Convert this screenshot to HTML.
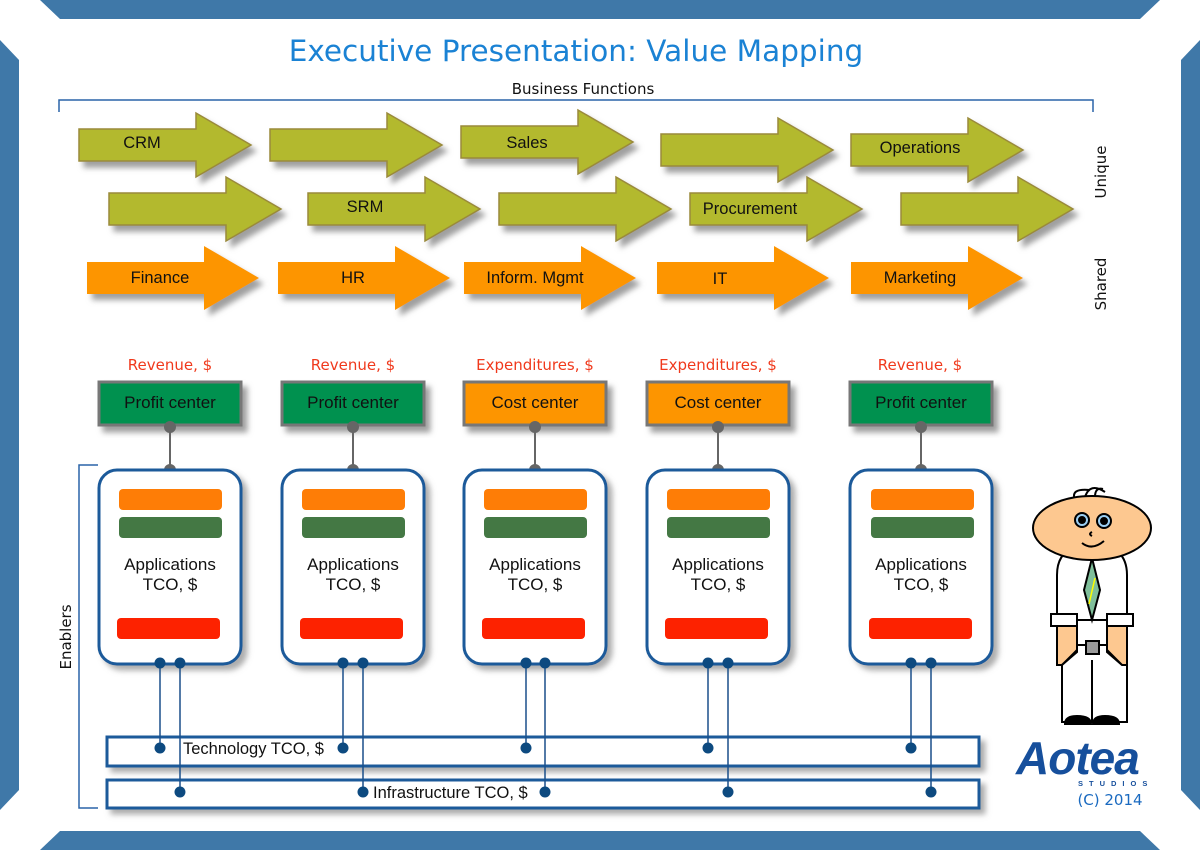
<!DOCTYPE html>
<html><head><meta charset="utf-8"><style>
html,body{margin:0;padding:0;background:#fff;width:1200px;height:850px;overflow:hidden}
svg{display:block}
text{font-family:"Liberation Sans",sans-serif}
.dv,.dv text{font-family:"DejaVu Sans","Liberation Sans",sans-serif}
</style></head><body>
<svg width="1200" height="850" viewBox="0 0 1200 850" xmlns="http://www.w3.org/2000/svg">
<defs>
<filter id="sh" x="-10%" y="-20%" width="130%" height="150%"><feDropShadow dx="5" dy="6" stdDeviation="3" flood-color="#777" flood-opacity="0.7"/></filter>
<filter id="sh2" x="-10%" y="-10%" width="130%" height="130%"><feDropShadow dx="5" dy="5" stdDeviation="3" flood-color="#777" flood-opacity="0.6"/></filter>
<path id="arr" d="M0,-16 H117 V-32 L172,0 L117,32 V16 H0 Z"/>
</defs>
<!-- frame -->
<polygon points="40,0 1160,0 1140,19 60,19" fill="#3f78a8"/>
<polygon points="40,850 1160,850 1140,831 60,831" fill="#3f78a8"/>
<polygon points="0,40 19,60 19,790 0,810" fill="#3f78a8"/>
<polygon points="1200,40 1181,60 1181,790 1200,810" fill="#3f78a8"/>

<text x="576" y="61" text-anchor="middle" class="dv" font-size="29.5" fill="#1a82d4">Executive Presentation: Value Mapping</text>
<text x="583" y="94" text-anchor="middle" class="dv" font-size="15" fill="#111">Business Functions</text>
<path d="M59,112 V100 H1093 V112" fill="none" stroke="#2a64a8" stroke-width="1.5"/>

<!-- green arrows -->
<g fill="#b3b92f" stroke="#9a8a3a" stroke-width="1.5" filter="url(#sh)">
<use href="#arr" x="79" y="145"/><use href="#arr" x="270" y="145"/><use href="#arr" x="461" y="142"/><use href="#arr" x="661" y="150"/><use href="#arr" x="851" y="150"/>
<use href="#arr" x="109" y="209"/><use href="#arr" x="308" y="209"/><use href="#arr" x="499" y="209"/><use href="#arr" x="690" y="209"/><use href="#arr" x="901" y="209"/>
</g>
<g fill="#fd9500" filter="url(#sh)">
<use href="#arr" x="87" y="278"/><use href="#arr" x="278" y="278"/><use href="#arr" x="464" y="278"/><use href="#arr" x="657" y="278"/><use href="#arr" x="851" y="278"/>
</g>
<g font-size="16.5" fill="#111" text-anchor="middle">
<text x="142" y="148">CRM</text><text x="527" y="148">Sales</text><text x="920" y="153">Operations</text>
<text x="365" y="212">SRM</text><text x="750" y="214">Procurement</text>
<text x="160" y="283">Finance</text><text x="353" y="283">HR</text><text x="535" y="283">Inform. Mgmt</text><text x="720" y="284">IT</text><text x="920" y="283">Marketing</text>
</g>
<text transform="translate(1106,172) rotate(-90)" text-anchor="middle" class="dv" font-size="15" fill="#111">Unique</text>
<text transform="translate(1106,284) rotate(-90)" text-anchor="middle" class="dv" font-size="15" fill="#111">Shared</text>

<!-- revenue labels -->
<g class="dv" font-size="15" fill="#f0391c" text-anchor="middle">
<text x="170" y="370">Revenue, $</text><text x="353" y="370">Revenue, $</text><text x="535" y="370">Expenditures, $</text><text x="718" y="370">Expenditures, $</text><text x="920" y="370">Revenue, $</text>
</g>
<!-- center boxes -->
<g stroke="#777" stroke-width="3" filter="url(#sh)">
<rect x="99" y="382" width="142" height="43" fill="#009150"/>
<rect x="282" y="382" width="142" height="43" fill="#009150"/>
<rect x="464" y="382" width="142" height="43" fill="#fd9500"/>
<rect x="647" y="382" width="142" height="43" fill="#fd9500"/>
<rect x="850" y="382" width="142" height="43" fill="#009150"/>
</g>
<g font-size="17" fill="#111" text-anchor="middle">
<text x="170" y="408">Profit center</text><text x="353" y="408">Profit center</text><text x="535" y="408">Cost center</text><text x="718" y="408">Cost center</text><text x="921" y="408">Profit center</text>
</g>
<g stroke="#666" stroke-width="2" fill="#666">
<line x1="170" y1="427" x2="170" y2="470"/><circle cx="170" cy="427" r="5"/><circle cx="170" cy="470" r="5"/>
<line x1="353" y1="427" x2="353" y2="470"/><circle cx="353" cy="427" r="5"/><circle cx="353" cy="470" r="5"/>
<line x1="535" y1="427" x2="535" y2="470"/><circle cx="535" cy="427" r="5"/><circle cx="535" cy="470" r="5"/>
<line x1="718" y1="427" x2="718" y2="470"/><circle cx="718" cy="427" r="5"/><circle cx="718" cy="470" r="5"/>
<line x1="921" y1="427" x2="921" y2="470"/><circle cx="921" cy="427" r="5"/><circle cx="921" cy="470" r="5"/>
</g>

<!-- enablers bracket -->
<path d="M98,465 H79 V808 H98" fill="none" stroke="#2a64a8" stroke-width="1.5"/>
<text transform="translate(71,637) rotate(-90)" text-anchor="middle" class="dv" font-size="15" fill="#111">Enablers</text>

<!-- tech & infra bars -->
<g fill="#fff" stroke="#1a5a9a" stroke-width="3" filter="url(#sh2)">
<rect x="107" y="737" width="872" height="29"/>
<rect x="107" y="780" width="872" height="28"/>
</g>
<text x="183" y="754" font-size="16.5" fill="#111">Technology TCO, $</text>
<text x="373" y="798" font-size="16.5" fill="#111">Infrastructure TCO, $</text>

<!-- app boxes -->
<g fill="#fff" stroke="#1a5a9a" stroke-width="3" filter="url(#sh2)">
<rect x="99" y="470" width="142" height="194" rx="18"/>
<rect x="282" y="470" width="142" height="194" rx="18"/>
<rect x="464" y="470" width="142" height="194" rx="18"/>
<rect x="647" y="470" width="142" height="194" rx="18"/>
<rect x="850" y="470" width="142" height="194" rx="18"/>
</g>
<g>
<rect x="119" y="489" width="103" height="21" rx="4" fill="#fe7d06"/><rect x="119" y="517" width="103" height="21" rx="4" fill="#447844"/><rect x="117" y="618" width="103" height="21" rx="4" fill="#fd2200"/>
<rect x="302" y="489" width="103" height="21" rx="4" fill="#fe7d06"/><rect x="302" y="517" width="103" height="21" rx="4" fill="#447844"/><rect x="300" y="618" width="103" height="21" rx="4" fill="#fd2200"/>
<rect x="484" y="489" width="103" height="21" rx="4" fill="#fe7d06"/><rect x="484" y="517" width="103" height="21" rx="4" fill="#447844"/><rect x="482" y="618" width="103" height="21" rx="4" fill="#fd2200"/>
<rect x="667" y="489" width="103" height="21" rx="4" fill="#fe7d06"/><rect x="667" y="517" width="103" height="21" rx="4" fill="#447844"/><rect x="665" y="618" width="103" height="21" rx="4" fill="#fd2200"/>
<rect x="871" y="489" width="103" height="21" rx="4" fill="#fe7d06"/><rect x="871" y="517" width="103" height="21" rx="4" fill="#447844"/><rect x="869" y="618" width="103" height="21" rx="4" fill="#fd2200"/>
</g>
<g font-size="17" fill="#111" text-anchor="middle">
<text x="170" y="570">Applications</text><text x="170" y="590">TCO, $</text>
<text x="353" y="570">Applications</text><text x="353" y="590">TCO, $</text>
<text x="535" y="570">Applications</text><text x="535" y="590">TCO, $</text>
<text x="718" y="570">Applications</text><text x="718" y="590">TCO, $</text>
<text x="921" y="570">Applications</text><text x="921" y="590">TCO, $</text>
</g>
<!-- connectors -->
<g stroke="#1a4f8a" stroke-width="1.5" fill="#0d4a80">
<line x1="160" y1="663" x2="160" y2="748"/><line x1="180" y1="663" x2="180" y2="792"/>
<line x1="343" y1="663" x2="343" y2="748"/><line x1="363" y1="663" x2="363" y2="792"/>
<line x1="526" y1="663" x2="526" y2="748"/><line x1="545" y1="663" x2="545" y2="792"/>
<line x1="708" y1="663" x2="708" y2="748"/><line x1="728" y1="663" x2="728" y2="792"/>
<line x1="911" y1="663" x2="911" y2="748"/><line x1="931" y1="663" x2="931" y2="792"/>
<g stroke="none">
<circle cx="160" cy="663" r="5.5"/><circle cx="180" cy="663" r="5.5"/><circle cx="343" cy="663" r="5.5"/><circle cx="363" cy="663" r="5.5"/>
<circle cx="526" cy="663" r="5.5"/><circle cx="545" cy="663" r="5.5"/><circle cx="708" cy="663" r="5.5"/><circle cx="728" cy="663" r="5.5"/>
<circle cx="911" cy="663" r="5.5"/><circle cx="931" cy="663" r="5.5"/>
<circle cx="160" cy="748" r="5.5"/><circle cx="343" cy="748" r="5.5"/><circle cx="526" cy="748" r="5.5"/><circle cx="708" cy="748" r="5.5"/><circle cx="911" cy="748" r="5.5"/>
<circle cx="180" cy="792" r="5.5"/><circle cx="363" cy="792" r="5.5"/><circle cx="545" cy="792" r="5.5"/><circle cx="728" cy="792" r="5.5"/><circle cx="931" cy="792" r="5.5"/>
</g>
</g>

<!-- character -->
<g stroke="#000" stroke-width="2">
<path d="M1075,500 q-5,-12 15,-10 M1085,497 q5,-15 20,-5 M1095,497 q0,-10 8,-8" fill="none"/>
<path d="M1057,620 V575 q0,-30 35,-32 q35,2 35,32 V620 Z" fill="#fff"/>
<path d="M1057,626 H1077 V650 L1062,665 H1057 Z" fill="#fdc890"/>
<path d="M1127,626 H1107 V650 L1122,665 H1127 Z" fill="#fdc890"/>
<rect x="1051" y="614" width="26" height="12" fill="#fff"/>
<rect x="1107" y="614" width="26" height="12" fill="#fff"/>
<path d="M1077,645 H1107 V652 L1122,665 H1127 V722 H1062 V665 L1077,652 Z" fill="#fff"/>
<line x1="1092" y1="660" x2="1092" y2="722"/>
<path d="M1065,724 q0,-8 12,-8 q14,0 14,8 Z M1093,724 q0,-8 12,-8 q14,0 14,8 Z" fill="#000"/>
<rect x="1086" y="641" width="13" height="13" fill="#999"/>
<path d="M1092,558 L1100,590 L1092,620 L1084,590 Z" fill="#7fbf9a"/>
<line x1="1095" y1="578" x2="1089" y2="604" stroke="#ff0" stroke-width="1.5"/>
<ellipse cx="1092" cy="528" rx="59" ry="32" fill="#fdc890"/>
<circle cx="1082" cy="520" r="7" fill="#9cd0f4"/><circle cx="1104" cy="521" r="7" fill="#9cd0f4"/>
<circle cx="1082" cy="520" r="3" fill="#000"/><circle cx="1104" cy="521" r="3" fill="#000"/>
<path d="M1092,532 q-4,2 0,4 M1082,543 q10,8 22,-2" fill="none"/>
</g>
<!-- logo -->
<text x="1016" y="774" font-family="Liberation Sans" font-weight="bold" font-style="italic" font-size="46" fill="#164f9c" letter-spacing="-1">Aotea</text>
<text x="1078" y="786" font-size="7.5" font-weight="bold" fill="#164f9c" letter-spacing="6">STUDIOS</text>
<text x="1110" y="805" text-anchor="middle" class="dv" font-size="15" fill="#1a6ac0">(C) 2014</text>
</svg>
</body></html>
